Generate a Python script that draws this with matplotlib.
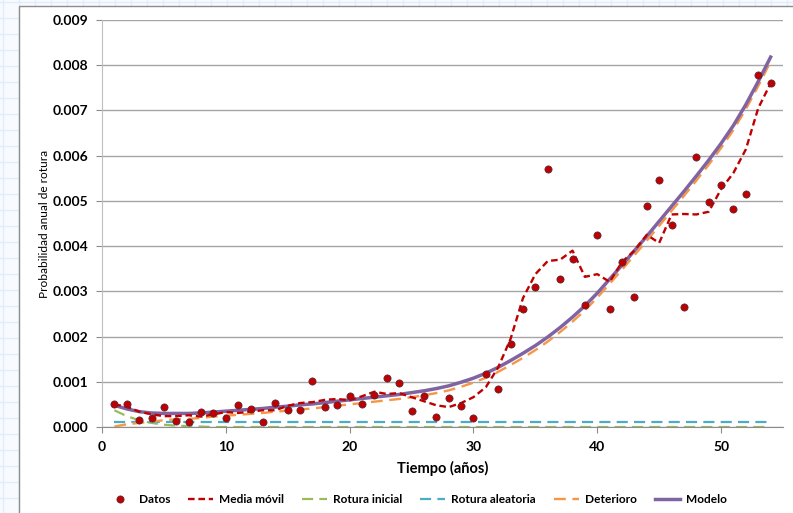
import matplotlib
matplotlib.use("Agg")
import matplotlib.pyplot as plt
from matplotlib.patches import Rectangle

plt.rcParams["font.family"] = ["Lato", "DejaVu Sans"]

years = list(range(1, 55))

datos = [
    0.000515, 0.00050, 0.000155, 0.00020, 0.00044, 0.00013, 0.00012, 0.00033, 0.00032, 0.00020,
    0.00049, 0.00040, 0.00010, 0.00052, 0.00038, 0.00038, 0.00102, 0.00044, 0.00048, 0.00069,
    0.00051, 0.00071, 0.00108, 0.00097, 0.00035, 0.00068, 0.00023, 0.00065, 0.00047, 0.00020,
    0.00117, 0.00085, 0.00183, 0.00260, 0.00309, 0.00571, 0.00328, 0.00371, 0.00269, 0.00424,
    0.00260, 0.00364, 0.00288, 0.00488, 0.00546, 0.00447, 0.00266, 0.00597, 0.00498, 0.00536,
    0.00481, 0.00516, 0.00779, 0.00760,
]

media_movil = [
    0.00050, 0.00045, 0.00034, 0.00028, 0.00024, 0.00024, 0.00026, 0.00023, 0.00028, 0.00033,
    0.00031, 0.00034, 0.00037, 0.00037, 0.00047, 0.00053, 0.00055, 0.00060, 0.00062, 0.00059,
    0.00068, 0.00078, 0.00073, 0.00075, 0.00066, 0.00057, 0.00048, 0.00044, 0.00053, 0.00066,
    0.00088, 0.00132, 0.00195, 0.00285, 0.00338, 0.00367, 0.00370, 0.00390, 0.00332, 0.00338,
    0.00321, 0.00365, 0.00390, 0.00425, 0.00407, 0.00470, 0.00471, 0.00470, 0.00476, 0.00526,
    0.00562, 0.00614, 0.00705, 0.00760,
]

rotura_inicial = [
    0.00037, 0.00024, 0.00015, 0.00009, 0.00005, 0.00003, 0.00002, 0.00001, 0.0, 0.0,
    0.0, 0.0, 0.0, 0.0, 0.0, 0.0, 0.0, 0.0, 0.0, 0.0,
    0.0, 0.0, 0.0, 0.0, 0.0, 0.0, 0.0, 0.0, 0.0, 0.0,
    0.0, 0.0, 0.0, 0.0, 0.0, 0.0, 0.0, 0.0, 0.0, 0.0,
    0.0, 0.0, 0.0, 0.0, 0.0, 0.0, 0.0, 0.0, 0.0, 0.0,
    0.0, 0.0, 0.0, 0.0,
]

rotura_aleatoria = [
    0.0001, 0.0001, 0.0001, 0.0001, 0.0001, 0.0001, 0.0001, 0.0001, 0.0001, 0.0001,
    0.0001, 0.0001, 0.0001, 0.0001, 0.0001, 0.0001, 0.0001, 0.0001, 0.0001, 0.0001,
    0.0001, 0.0001, 0.0001, 0.0001, 0.0001, 0.0001, 0.0001, 0.0001, 0.0001, 0.0001,
    0.0001, 0.0001, 0.0001, 0.0001, 0.0001, 0.0001, 0.0001, 0.0001, 0.0001, 0.0001,
    0.0001, 0.0001, 0.0001, 0.0001, 0.0001, 0.0001, 0.0001, 0.0001, 0.0001, 0.0001,
    0.0001, 0.0001, 0.0001, 0.0001,
]

deterioro = [
    0.00001, 0.00006, 0.00009, 0.00012, 0.00015, 0.00017, 0.00018, 0.00020, 0.00023, 0.00025,
    0.00027, 0.00029, 0.00031, 0.00034, 0.00036, 0.00039, 0.00041, 0.00044, 0.00047, 0.00050,
    0.00053, 0.00056, 0.00059, 0.00062, 0.00066, 0.00070, 0.00075, 0.00081, 0.00089, 0.00098,
    0.00109, 0.00122, 0.00137, 0.00153, 0.00170, 0.00189, 0.00210, 0.00233, 0.00258, 0.00286,
    0.00317, 0.00348, 0.00380, 0.00412, 0.00445, 0.00478, 0.00511, 0.00545, 0.00580, 0.00617,
    0.00657, 0.00703, 0.00754, 0.00808,
]

modelo = [
    0.00048, 0.00040, 0.00034, 0.00031, 0.00030, 0.00030, 0.00030, 0.00031, 0.00033, 0.00035,
    0.00037, 0.00039, 0.00041, 0.00044, 0.00046, 0.00049, 0.00051, 0.00054, 0.00057, 0.00060,
    0.00063, 0.00066, 0.00069, 0.00072, 0.00076, 0.00080, 0.00085, 0.00091, 0.00099, 0.00108,
    0.00119, 0.00132, 0.00147, 0.00163, 0.00180, 0.00199, 0.00220, 0.00243, 0.00268, 0.00296,
    0.00327, 0.00358, 0.00390, 0.00422, 0.00455, 0.00488, 0.00521, 0.00555, 0.00590, 0.00627,
    0.00667, 0.00713, 0.00764, 0.00818,
]

W, H = 793, 513
fig = plt.figure(figsize=(W / 100, H / 100), dpi=100)
fig.patch.set_facecolor("#f7fbff")

# squared-paper backdrop with the white chart panel on top
bg = fig.add_axes([0, 0, 1, 1], zorder=0)
bg.set_xlim(0, W)
bg.set_ylim(H, 0)
bg.axis("off")
for gx in range(3, W, 16):
    bg.axvline(gx, color="#e2edf8", lw=1.0, zorder=1)
for gy in range(2, H, 16):
    bg.axhline(gy, color="#e2edf8", lw=1.0, zorder=1)
bg.add_patch(Rectangle((19, 6), W, H, facecolor="white", edgecolor="#8c8c8c",
                       lw=1.0, zorder=5))

ax = fig.add_axes([102 / W, 1 - 427 / H, (783 - 102) / W, (427 - 20) / H], zorder=1)
ax.set_facecolor("none")

ax.plot(years, rotura_inicial, color="#9bbb59", lw=1.6, dashes=(5, 2.8), label="Rotura inicial", zorder=2)
ax.plot(years, rotura_aleatoria, color="#4bacc6", lw=1.6, dashes=(5, 2.8), label="Rotura aleatoria", zorder=2)
ax.plot(years, deterioro, color="#f79646", lw=1.7, dashes=(5, 2.8), label="Deterioro", zorder=3)
ax.plot(years, modelo, color="#8064a2", lw=2.5, label="Modelo", zorder=4)
ax.plot(years, media_movil, color="#c00000", lw=1.7, dashes=(2.8, 1.6), label="Media móvil", zorder=5)
ax.plot(years, datos, ls="none", marker="o", ms=5.2, color="#c00000",
        mec="#4a2a3a", mew=0.5, label="Datos", zorder=6)

ax.set_xlim(0, 55)
ax.set_ylim(0, 0.009)
ax.set_xticks([0, 10, 20, 30, 40, 50])
ax.set_yticks([i * 0.001 for i in range(10)])
ax.yaxis.set_major_formatter(plt.FuncFormatter(lambda v, p: f"{v:.3f}"))
ax.grid(axis="y", color="#a6a6a6", lw=1.0)
ax.set_axisbelow(True)

for side in ("top", "right"):
    ax.spines[side].set_visible(False)
ax.spines["left"].set_color("#bfbfbf")
ax.spines["bottom"].set_color("#8c8c8c")
ax.tick_params(axis="both", direction="out", length=4, color="#8c8c8c",
               labelsize=10, pad=6)
for lbl in ax.get_xticklabels() + ax.get_yticklabels():
    lbl.set_fontweight("bold")

ax.set_xlabel("Tiempo (años)", fontsize=10.5, fontweight="bold", labelpad=6)
ax.set_ylabel("Probabilidad anual de rotura", fontsize=8.6)
ax.yaxis.set_label_coords(-0.077, 0.5)

order = ["Datos", "Media móvil", "Rotura inicial", "Rotura aleatoria", "Deterioro", "Modelo"]
handles, labels = ax.get_legend_handles_labels()
lookup = dict(zip(labels, handles))
fig.legend([lookup[k] for k in order], order, loc="center", ncol=6,
           bbox_to_anchor=(0.526, 0.026), frameon=False,
           prop={"size": 8.6, "weight": "bold"},
           handlelength=2.1, handletextpad=0.5, columnspacing=1.5)

fig.savefig("out.png", dpi=100)
